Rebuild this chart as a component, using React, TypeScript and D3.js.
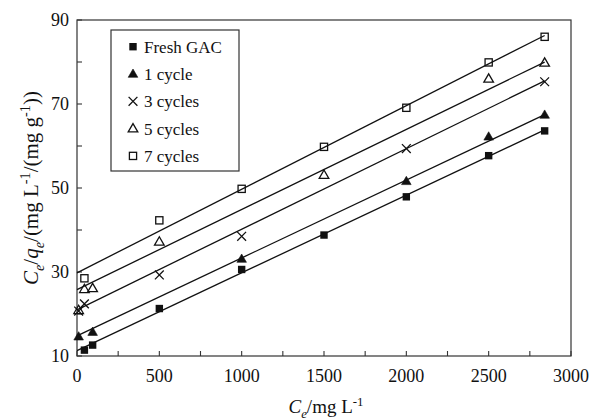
import { useEffect, useRef } from 'react';
import * as d3 from 'd3';

// Ce (mg/L) where points were measured; null = no marker at that Ce
const ce = [10, 45, 95, 500, 1000, 1500, 2000, 2500, 2840];
const freshGac = [null, 11.4, 12.6, 21.3, 30.6, 38.8, 47.9, 57.7, 63.6];
const cycle1 = [14.6, null, 15.7, null, 33.1, null, 51.6, 62.2, 67.4];
const cycle3 = [20.7, 22.4, null, 29.3, 38.5, null, 59.4, null, 75.3];
const cycle5 = [20.9, 25.9, 26.1, 37.2, null, 53.1, null, 76.0, 79.8];
const cycle7 = [null, 28.5, null, 42.3, 49.8, 59.8, 69.1, 79.9, 86.0];

const seriesNames = ['Fresh GAC', '1 cycle', '3 cycles', '5 cycles', '7 cycles'];
// linear fits Ce/qe = a + b*Ce
const fitIntercepts = [11.3, 14.8, 21.0, 25.8, 29.8];
const fitSlopes = [0.0185, 0.01855, 0.01919, 0.01908, 0.0199];
const fitRange = [0, 2840];

const xTicks = [0, 500, 1000, 1500, 2000, 2500, 3000];
const yTicks = [10, 30, 50, 70, 90];

const W = 590;
const H = 420;
const margin = { top: 20, right: 19, bottom: 64, left: 77 };
const ink = '#111';
const font = "'Liberation Serif', 'Times New Roman', Times, 'DejaVu Serif', serif";

type Part = { t: string; italic?: boolean; sub?: boolean; sup?: boolean };

function richText(sel: any, parts: Part[], size: number) {
  let cur = 0;
  parts.forEach(p => {
    const target = p.sub ? size * 0.28 : p.sup ? -size * 0.38 : 0;
    sel.append('tspan')
      .attr('dy', target - cur)
      .style('font-style', p.italic ? 'italic' : 'normal')
      .style('font-size', `${p.sub || p.sup ? size * 0.68 : size}px`)
      .text(p.t);
    cur = target;
  });
}

function drawMarker(g: any, kind: number, x: number, y: number) {
  if (kind === 0) {
    g.append('rect').attr('x', x - 3.7).attr('y', y - 3.7)
      .attr('width', 7.4).attr('height', 7.4).attr('fill', ink);
  } else if (kind === 1 || kind === 3) {
    const s = 9.6;
    const h = s * 0.866;
    const p = `M${x},${y - h * 0.6}L${x + s / 2},${y + h * 0.4}L${x - s / 2},${y + h * 0.4}Z`;
    g.append('path').attr('d', p)
      .attr('fill', kind === 1 ? ink : 'none')
      .attr('stroke', ink).attr('stroke-width', kind === 1 ? 0.6 : 1.3)
      .attr('stroke-linejoin', 'miter');
  } else if (kind === 2) {
    const r = 4.4;
    g.append('path')
      .attr('d', `M${x - r},${y - r}L${x + r},${y + r}M${x - r},${y + r}L${x + r},${y - r}`)
      .attr('stroke', ink).attr('stroke-width', 1.3).attr('fill', 'none');
  } else {
    g.append('rect').attr('x', x - 3.6).attr('y', y - 3.6)
      .attr('width', 7.2).attr('height', 7.2)
      .attr('fill', 'none').attr('stroke', ink).attr('stroke-width', 1.3);
  }
}

const App = () => {
  const svgRef = useRef<SVGSVGElement>(null);

  useEffect(() => {
    if (!svgRef.current) return;
    const svg = d3.select(svgRef.current);
    svg.selectAll('*').remove();

    const x = d3.scaleLinear().domain([0, 3000]).range([margin.left, W - margin.right]);
    const y = d3.scaleLinear().domain([10, 90]).range([H - margin.bottom, margin.top]);

    const allSeries = [freshGac, cycle1, cycle3, cycle5, cycle7];

    // frame
    svg.append('rect')
      .attr('x', x(0)).attr('y', y(90))
      .attr('width', x(3000) - x(0)).attr('height', y(10) - y(90))
      .attr('fill', 'none').attr('stroke', '#333').attr('stroke-width', 1.2);

    // ticks (inward)
    const xMinor = d3.range(0, 3001, 250);
    svg.append('g').selectAll('line').data(xMinor).enter().append('line')
      .attr('x1', d => x(d)).attr('x2', d => x(d))
      .attr('y1', y(10)).attr('y2', y(10) - 5)
      .attr('stroke', '#333').attr('stroke-width', 1.1);
    const yMinor = d3.range(10, 91, 10);
    svg.append('g').selectAll('line').data(yMinor).enter().append('line')
      .attr('x1', x(0)).attr('x2', x(0) + 5)
      .attr('y1', d => y(d)).attr('y2', d => y(d))
      .attr('stroke', '#333').attr('stroke-width', 1.1);

    svg.append('g').selectAll('text').data(xTicks).enter().append('text')
      .attr('x', d => x(d)).attr('y', y(10) + 26)
      .attr('text-anchor', 'middle')
      .style('font-family', font).style('font-size', '18px').attr('fill', ink)
      .text(d => d);
    svg.append('g').selectAll('text').data(yTicks).enter().append('text')
      .attr('x', x(0) - 8).attr('y', d => y(d) + 6)
      .attr('text-anchor', 'end')
      .style('font-family', font).style('font-size', '18px').attr('fill', ink)
      .text(d => d);

    // fit lines
    const line = d3.line<number>().x(d => x(d));
    allSeries.forEach((_, i) => {
      svg.append('path')
        .attr('d', line.y(d => y(fitIntercepts[i] + fitSlopes[i] * d))(fitRange))
        .attr('fill', 'none').attr('stroke', ink).attr('stroke-width', 1.3);
    });

    // data markers
    const marks = svg.append('g');
    allSeries.forEach((vals, i) => {
      vals.forEach((v, j) => {
        if (v == null) return;
        drawMarker(marks, i, x(ce[j]), y(v));
      });
    });

    // legend
    const lg = svg.append('g');
    lg.append('rect')
      .attr('x', 111).attr('y', 30).attr('width', 128).attr('height', 141)
      .attr('fill', 'white').attr('stroke', '#333').attr('stroke-width', 1.2);
    seriesNames.forEach((name, i) => {
      const cy = 46.7 + i * 27.3;
      drawMarker(lg, i, 133, cy);
      lg.append('text')
        .attr('x', 144).attr('y', cy + 6)
        .style('font-family', font).style('font-size', '17px').attr('fill', ink)
        .text(name);
    });

    // axis titles
    const xt = svg.append('text')
      .attr('x', (x(0) + x(3000)) / 2 + 2).attr('y', 413)
      .attr('text-anchor', 'middle')
      .style('font-family', font).attr('fill', ink);
    richText(xt, [
      { t: 'C', italic: true }, { t: 'e', italic: true, sub: true },
      { t: '/mg L' }, { t: '-1', sup: true },
    ], 19);

    const yt = svg.append('text')
      .attr('transform', `translate(38, ${(y(10) + y(90)) / 2}) rotate(-90)`)
      .attr('text-anchor', 'middle')
      .style('font-family', font).attr('fill', ink);
    richText(yt, [
      { t: 'C', italic: true }, { t: 'e', italic: true, sub: true },
      { t: '/' },
      { t: 'q', italic: true }, { t: 'e', italic: true, sub: true },
      { t: '/(mg L' }, { t: '-1', sup: true },
      { t: '/(mg g' }, { t: '-1', sup: true },
      { t: '))' },
    ], 21);
  }, []);

  return (
    <svg
      ref={svgRef}
      width={W}
      height={H}
      style={{ position: 'fixed', left: 0, top: 0, background: 'white' }}
    />
  );
};

export default App;
